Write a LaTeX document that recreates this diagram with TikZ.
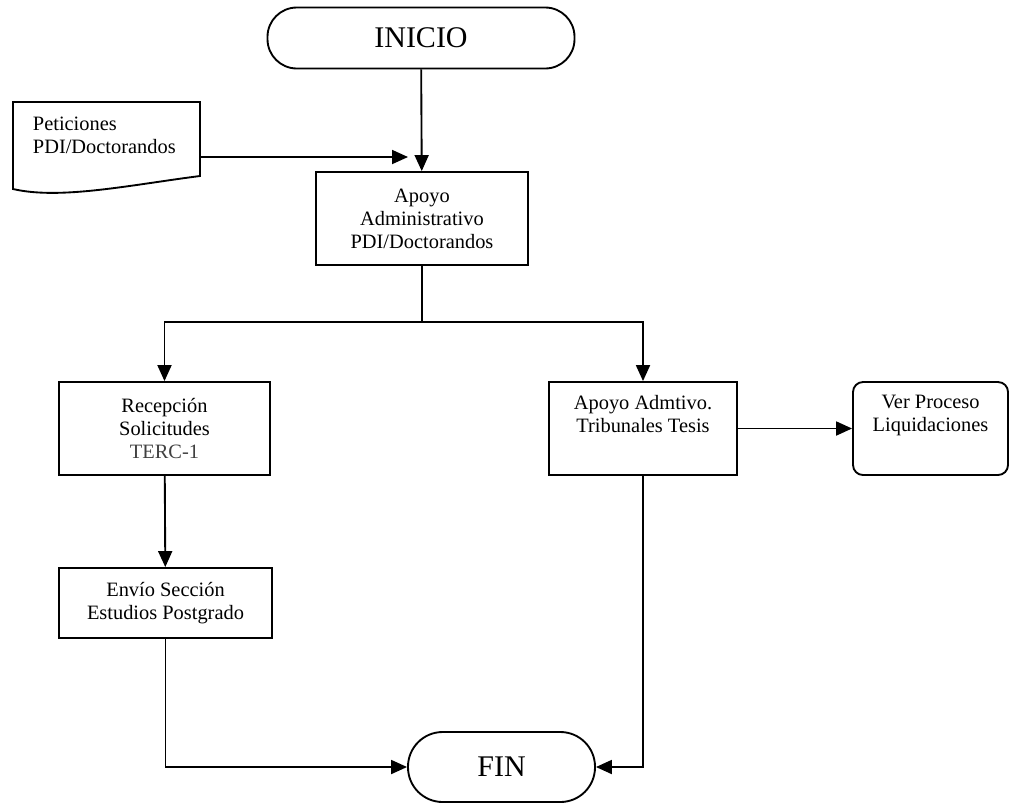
\documentclass[tikz,border=0pt]{standalone}
\usepackage{fontspec}
\setmainfont{Liberation Serif}
\usetikzlibrary{arrows.meta}
\begin{document}
\begin{tikzpicture}[x=0.75pt,y=-0.75pt,
  line width=1.4pt,
  txt/.style={font=\fontsize{15.3}{17.25}\selectfont, align=center},
  procbox/.style={draw, txt, inner sep=0pt},
  termbox/.style={draw, rounded corners=22pt, inner sep=0pt,
    font=\fontsize{22.5}{26}\selectfont},
  arr/.style={-{Triangle[length=12pt,width=10.5pt]}}
]
\useasboundingbox (0,0) rectangle (1019,804);

% terminators
\node[termbox, minimum width=230.25pt, minimum height=45.75pt] (ini) at (421,38) {INICIO};
\node[termbox, rounded corners=26pt, minimum width=140.25pt, minimum height=52.5pt] (fin) at (501.5,767) {FIN};

% input document
\draw (13,102) -- (200,102) -- (200,176)
  .. controls (130,185) and (60,200) .. (13,189) -- cycle;
\node[txt, align=left, anchor=west, inner sep=0pt] (pet) at (32,135) {Peticiones\\PDI/Doctorandos};
\coordinate (petout) at (200,157);
\coordinate (petin) at (408,157);

% process boxes
\node[procbox, minimum width=159pt, minimum height=69.75pt] (apoyo) at (422,218.5)
  {Apoyo\\Administrativo\\PDI/Doctorandos};
\node[procbox, minimum width=158.25pt, minimum height=69.75pt] (rec) at (164.5,428.5)
  {Recepción\\Solicitudes\\\textcolor{black!75}{TERC-1}};
\node[procbox, minimum width=159.75pt, minimum height=52.5pt] (env) at (165.5,603)
  {Envío Sección\\Estudios Postgrado};
\node[procbox, minimum width=141pt, minimum height=69.75pt] (adm) at (643,428.5)
  {Apoyo Admtivo.\\Tribunales Tesis\\\strut};
\node[procbox, rounded corners=7.5pt, minimum width=116.25pt, minimum height=69.75pt] (ver) at (930.5,428.5)
  {Ver Proceso\\Liquidaciones\\\strut};

% connectors
\coordinate (split) at (422,322);
\draw[arr] (ini) -- (apoyo);
\draw[arr] (petout) -- (petin);
\draw (apoyo.south) -- (split);
\draw[arr] (split) -| (rec.north);
\draw[arr] (split) -| (adm.north);
\draw[arr] (rec) -- (env);
\draw[arr] (adm.east) -- (ver.west);
\draw[arr] (env.south) |- (fin.west);
\draw[arr] (adm.south) |- (fin.east);
\end{tikzpicture}
\end{document}
